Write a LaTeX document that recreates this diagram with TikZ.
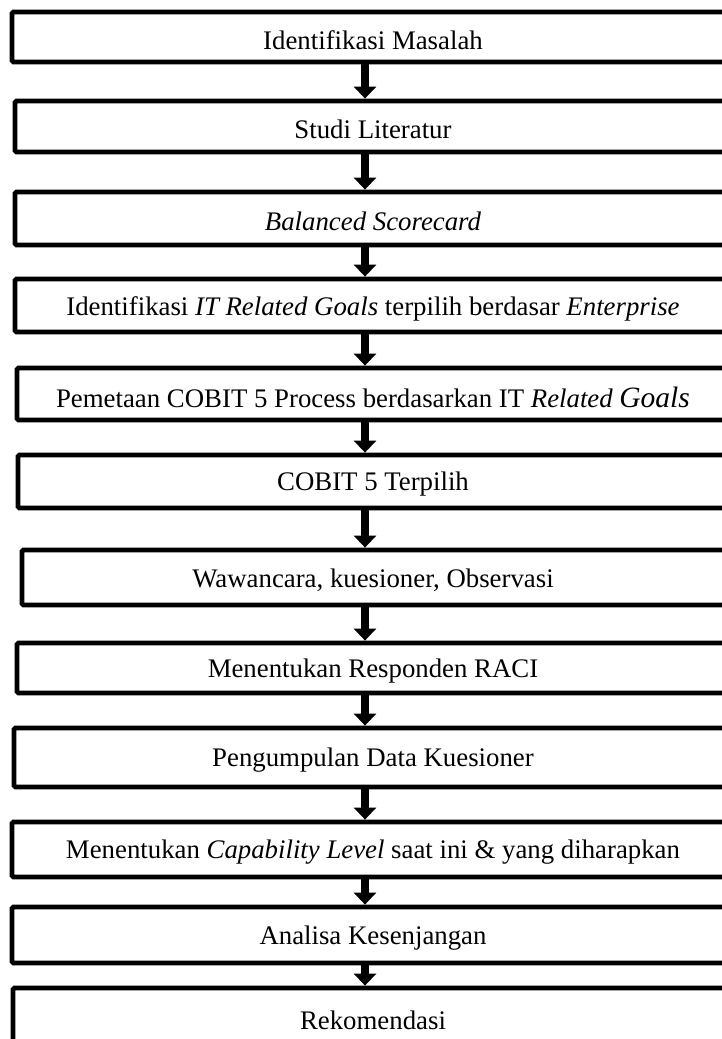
\documentclass[tikz,border=0pt]{standalone}
\usepackage{fontspec}
\setmainfont{Liberation Serif}
\usetikzlibrary{arrows.meta}
\newcommand{\mkbox}[5]{\node[stepbox, minimum width={(735-#2)*1pt}, minimum height={(#4-#3)*1pt}] (#1) at ({(#2+735)/2},{(#3+#4)/2}) {};
  \node[lbl] (#1t) at ([yshift=-3pt]#1.center -| ax) {#5};}
\begin{document}
\begin{tikzpicture}[x=1pt,y=-1pt,
  stepbox/.style={draw=black, line width=4.8pt, rounded corners=1.5pt, fill=white, inner sep=0pt},
  lbl/.style={inner sep=0pt, font=\fontsize{26.8}{30}\selectfont},
  flow/.style={line width=8pt, -{Triangle[width=22pt,length=12pt]}}]
\useasboundingbox (0,0) rectangle (721,1039);
\fill[white] (0,0) rectangle (721,1039);
\coordinate (ax) at (373,0);
\mkbox{b1}{12}{12}{62}{Identifikasi Masalah}
\mkbox{b2}{15}{101}{152}{Studi Literatur}
\mkbox{b3}{15}{192}{245}{\itshape Balanced Scorecard}
\mkbox{b4}{15}{279}{332}{Identifikasi \textit{IT Related Goals} terpilih berdasar \textit{Enterprise}}
\mkbox{b5}{17}{368}{420}{Pemetaan COBIT 5 Process berdasarkan IT \textit{Related {\fontsize{29.5}{32}\selectfont Goals}}}
\mkbox{b6}{18}{455}{508}{COBIT 5 Terpilih}
\mkbox{b7}{22}{550}{605}{Wawancara, kuesioner, Observasi}
\mkbox{b8}{17}{643}{693}{Menentukan Responden RACI}
\mkbox{b9}{14}{728}{787}{Pengumpulan Data Kuesioner}
\mkbox{b10}{12}{822}{877}{Menentukan \textit{Capability Level} saat ini \& yang diharapkan}
\mkbox{b11}{12}{907}{963}{Analisa Kesenjangan}
\mkbox{b12}{13}{988}{1046}{Rekomendasi}
\coordinate (fx) at (365,0);
\foreach \a/\b in {b1/b2,b2/b3,b3/b4,b4/b5,b5/b6,b6/b7,b7/b8,b8/b9,b9/b10,b10/b11,b11/b12}
  \draw[flow] (\a.south -| fx) -- (\b.north -| fx);
\end{tikzpicture}
\end{document}
